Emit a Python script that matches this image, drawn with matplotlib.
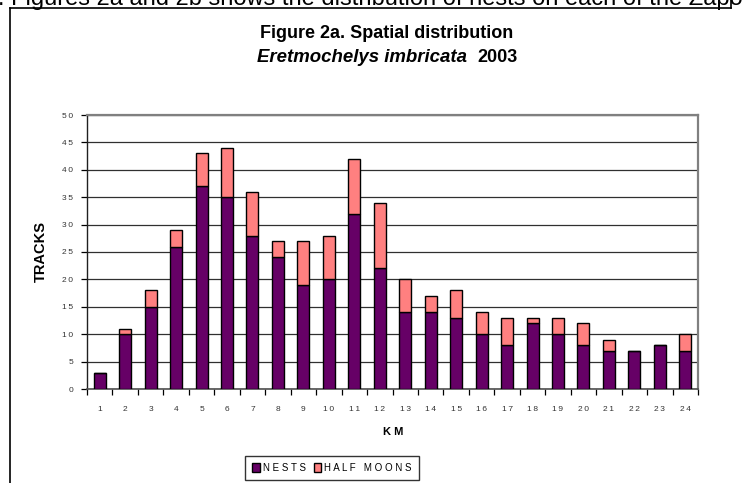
import matplotlib.pyplot as plt
import numpy as np
from matplotlib.lines import Line2D
from matplotlib.patches import Patch

plt.rcParams["font.family"] = ["Liberation Sans", "DejaVu Sans"]

KM = [str(k) for k in range(1, 25)]
NESTS = [3, 10, 15, 26, 37, 35, 28, 24, 19, 20, 32, 22,
         14, 14, 13, 10, 8, 12, 10, 8, 7, 7, 8, 7]
HALF_MOONS = [0, 1, 3, 3, 6, 9, 8, 3, 8, 8, 10, 12,
              6, 3, 5, 4, 5, 1, 3, 4, 2, 0, 0, 3]
Y_TICKS = list(range(0, 51, 5))

NEST_COLOR = "#660066"
MOON_COLOR = "#ff8080"
THIN = "\u2009"


def spaced(text: str, sep: str = THIN) -> str:
    return sep.join(text)


fig = plt.figure(figsize=(7.5, 4.83), dpi=100)
W, H = 750, 483


def fx(px):
    return px / W


def fy(py):
    return 1 - py / H


# surrounding document page: sentence running off the top, table border
fig.text(fx(-2), fy(5), ". Figures 2a and 2b shows the distribution of nests on each of the Zapo",
         fontsize=17, va="baseline", ha="left", color="black")
for xs, ys in [([10, 10], [8, 483]), ([10, 731], [8, 8]), ([731, 731], [0, 8])]:
    fig.add_artist(Line2D([fx(x) for x in xs], [fy(y) for y in ys],
                          color="black", lw=1.2, transform=fig.transFigure))

ax = fig.add_axes([fx(87), fy(389), fx(698) - fx(87), fy(115) - fy(389)])

x = np.arange(len(KM))
width = 0.47
ax.bar(x, NESTS, width, color=NEST_COLOR, edgecolor="black", linewidth=1.0, zorder=3)
ax.bar(x, HALF_MOONS, width, bottom=NESTS, color=MOON_COLOR,
       edgecolor="black", linewidth=1.0, zorder=3)

ax.set_xlim(-0.5, len(KM) - 0.5)
ax.set_ylim(0, 50)
ax.set_yticks(Y_TICKS)
ax.set_yticklabels([spaced(str(v)) for v in Y_TICKS], fontsize=6, color="#333333")
ax.yaxis.grid(True, color="#303030", linewidth=0.9, zorder=0)

# category labels in the middle, tick marks on the boundaries
ax.set_xticks(x)
ax.set_xticklabels([spaced(k) for k in KM], fontsize=6, color="#333333")
ax.tick_params(axis="x", which="major", length=0, pad=12)
ax.set_xticks(np.arange(-0.5, len(KM)), minor=True)
ax.tick_params(axis="x", which="minor", length=4, width=0.9, direction="out")
ax.tick_params(axis="y", length=4, width=0.9, direction="out", pad=6)

for side in ["top", "right"]:
    ax.spines[side].set_color("#808080")
    ax.spines[side].set_linewidth(1.6)
ax.spines["left"].set_color("#202020")
ax.spines["left"].set_linewidth(1.0)
ax.spines["bottom"].set_color("#505050")
ax.spines["bottom"].set_linewidth(1.2)

ax.set_ylabel("TRACKS", fontsize=10.5, fontweight="bold", labelpad=10)
fig.text(fx(393), fy(432), spaced("KM", " "), fontsize=8, fontweight="bold",
         ha="center", va="center")

fig.text(fx(387), fy(34), "Figure 2a. Spatial distribution", fontsize=13,
         fontweight="bold", ha="center", va="center")
fig.text(fx(467), fy(57), "Eretmochelys imbricata", fontsize=13.4, fontweight="bold",
         style="italic", ha="right", va="center")
fig.text(fx(477), fy(57), "2003", fontsize=13, fontweight="bold", ha="left", va="center")

handles = [Patch(facecolor=NEST_COLOR, edgecolor="black", linewidth=1.0),
           Patch(facecolor=MOON_COLOR, edgecolor="black", linewidth=1.0)]
fig.legend(handles, [spaced("NESTS", " "), spaced("HALF MOONS", " ")],
           loc="center", bbox_to_anchor=(fx(332), fy(468)), ncol=2,
           fontsize=7, frameon=True, fancybox=False, edgecolor="black",
           handlelength=0.8, handleheight=1.0, handletextpad=0.3,
           columnspacing=0.8, borderpad=0.7, borderaxespad=0)

fig.savefig("out.png", dpi=100)
